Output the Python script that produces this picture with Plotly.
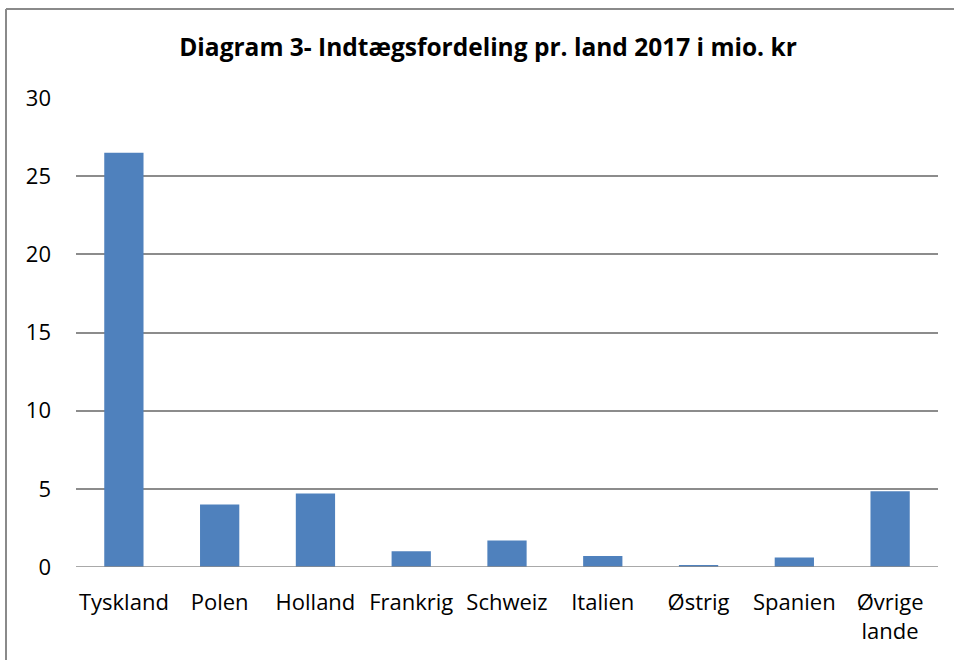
import plotly.graph_objects as go

categories = ["Tyskland", "Polen", "Holland", "Frankrig", "Schweiz", "Italien", "Østrig", "Spanien", "Øvrige<br>lande"]
values = [26.5, 4.0, 4.7, 1.0, 1.7, 0.7, 0.1, 0.6, 4.85]
y_ticks = [0, 5, 10, 15, 20, 25, 30]

W, H = 954, 660
L, R, T, B = 76, 16, 98, 93
pw, ph = W - L - R, H - T - B

def px(x):
    return (x - L) / pw

def py(y):
    return (H - B - y) / ph

FONT = "Open Sans, sans-serif"

fig = go.Figure(go.Bar(x=categories, y=values, marker_color="#4F81BD", marker_line_width=0))

fig.update_layout(
    width=W, height=H,
    margin=dict(l=L, r=R, t=T, b=B, autoexpand=False),
    paper_bgcolor="white", plot_bgcolor="white",
    bargap=0.59,
    showlegend=False,
    font=dict(family=FONT, size=22, color="black"),
    title=dict(text="<b>Diagram 3- Indtægsfordeling pr. land 2017 i mio. kr</b>",
               x=px(488), xref="paper", xanchor="center",
               y=1 - 47 / H, yref="container", yanchor="middle",
               font=dict(family=FONT, size=24.5, color="black")),
    xaxis=dict(showgrid=False, showline=False, ticks="", zeroline=False,
               tickfont=dict(size=22), ticklabelstandoff=20),
    yaxis=dict(range=[0, 30], tickvals=y_ticks, showgrid=True, gridcolor="#8c8c8c",
               gridwidth=1.5, zeroline=False, showline=False, ticks="",
               tickfont=dict(size=22), ticklabelstandoff=24),
    shapes=[
        dict(type="line", xref="paper", yref="paper", x0=px(6), x1=px(6), y0=py(9), y1=py(H + 5),
             line=dict(color="#8a8a8a", width=2)),
        dict(type="line", xref="paper", yref="paper", x0=px(6), x1=px(W + 5), y0=py(9), y1=py(9),
             line=dict(color="#8a8a8a", width=2)),
        dict(type="line", xref="paper", yref="y", x0=0, x1=1, y0=0, y1=0,
             line=dict(color="#8c8c8c", width=1.5), layer="above"),
    ],
)

fig.write_html("out.html", config={"displayModeBar": False},
               post_script="document.body.style.margin='0';document.body.style.overflow='hidden';")
